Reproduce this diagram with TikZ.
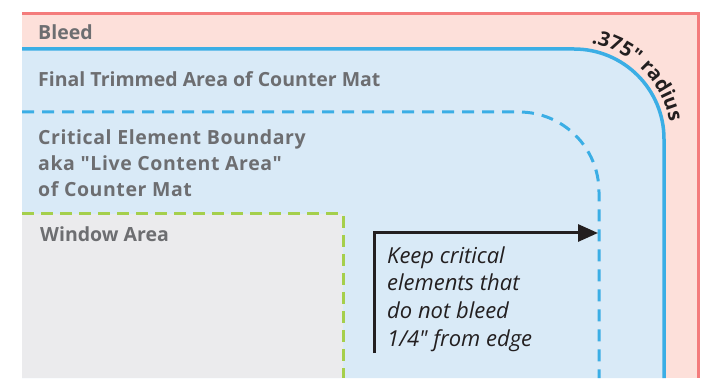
\documentclass[tikz,border=0pt]{standalone}
\usepackage{fontspec}
\setmainfont{Open Sans}
\newfontfamily\labelfont{Open Sans}
\newfontfamily\widefont[LetterSpace=3]{Open Sans}
\newfontfamily\notefont{Open Sans}
\usetikzlibrary{decorations.text,arrows.meta}
\definecolor{pinkfill}{HTML}{FDE0DA}
\definecolor{redline}{HTML}{F47C7C}
\definecolor{bluefill}{HTML}{D9EAF7}
\definecolor{blueline}{HTML}{3BAEE5}
\definecolor{greyfill}{HTML}{EBEBED}
\definecolor{greenline}{HTML}{A5CF4C}
\definecolor{textgrey}{HTML}{6D6E71}
\definecolor{inkblack}{HTML}{231F20}
\tikzset{
  lbl/.style={anchor=base west, inner sep=0pt, text=textgrey, font=\labelfont\bfseries\fontsize{19.5}{26}\selectfont, align=left},
  widelbl/.style={lbl, font=\widefont\bfseries\fontsize{19.5}{26}\selectfont},
  note/.style={anchor=base west, inner sep=0pt, text=inkblack, font=\notefont\itshape\fontsize{22}{28}\selectfont, align=left},
}
\begin{document}
\begin{tikzpicture}[x=1pt,y=1pt]
\useasboundingbox (0,0) rectangle (713,378);
% bleed
\fill[pinkfill] (22,0) rectangle (698,364);
\draw[redline, line width=3pt] (22,364) -- (698,364) -- (698,0);
% trimmed area
\fill[bluefill] (22,0) -- (22,329) -- (574,329) arc[start angle=90,end angle=0,radius=90] -- (664,0) -- cycle;
\draw[blueline, line width=3.5pt] (22,329) -- (574,329) arc[start angle=90,end angle=0,radius=90] -- (664,0);
% critical boundary
\draw[blueline, line width=3pt, dash pattern=on 12pt off 8pt] (22,266) -- (519,266) arc[start angle=90,end angle=0,radius=80] -- (599,0);
% window area
\fill[greyfill] (22,0) rectangle (343,164);
\draw[greenline, line width=3pt, dash pattern=on 12pt off 7pt] (22,164) -- (343,164) -- (343,0);
% radius text
\path[decorate, decoration={text along path, text align=center, text={|\labelfont\bfseries\fontsize{20}{24}\selectfont\color{inkblack}|.375" radius}}]
  (574,239) ++(92:97) arc[start angle=92,end angle=-2,radius=97];
% labels
\node[lbl] (bleed) at (38,338) {Bleed};
\node[lbl] (trim) at (38,291) {Final Trimmed Area of Counter Mat};
\node[widelbl] (crit) at (38,181) {Critical Element Boundary\\aka "Live Content Area"\\of Counter Mat};
\node[lbl] (win) at (40,136) {Window Area};
\node[note] (keep) at (387,31) {Keep critical\\elements that\\do not bleed\\1/4" from edge};
% arrow
\coordinate (abot) at (374,25);
\coordinate (acorner) at (374,145);
\coordinate (atip) at (598,145);
\draw[inkblack, line width=3pt, -{Triangle[length=20pt,width=17pt]}] (abot) -- (acorner) -- (atip);
\end{tikzpicture}
\end{document}
